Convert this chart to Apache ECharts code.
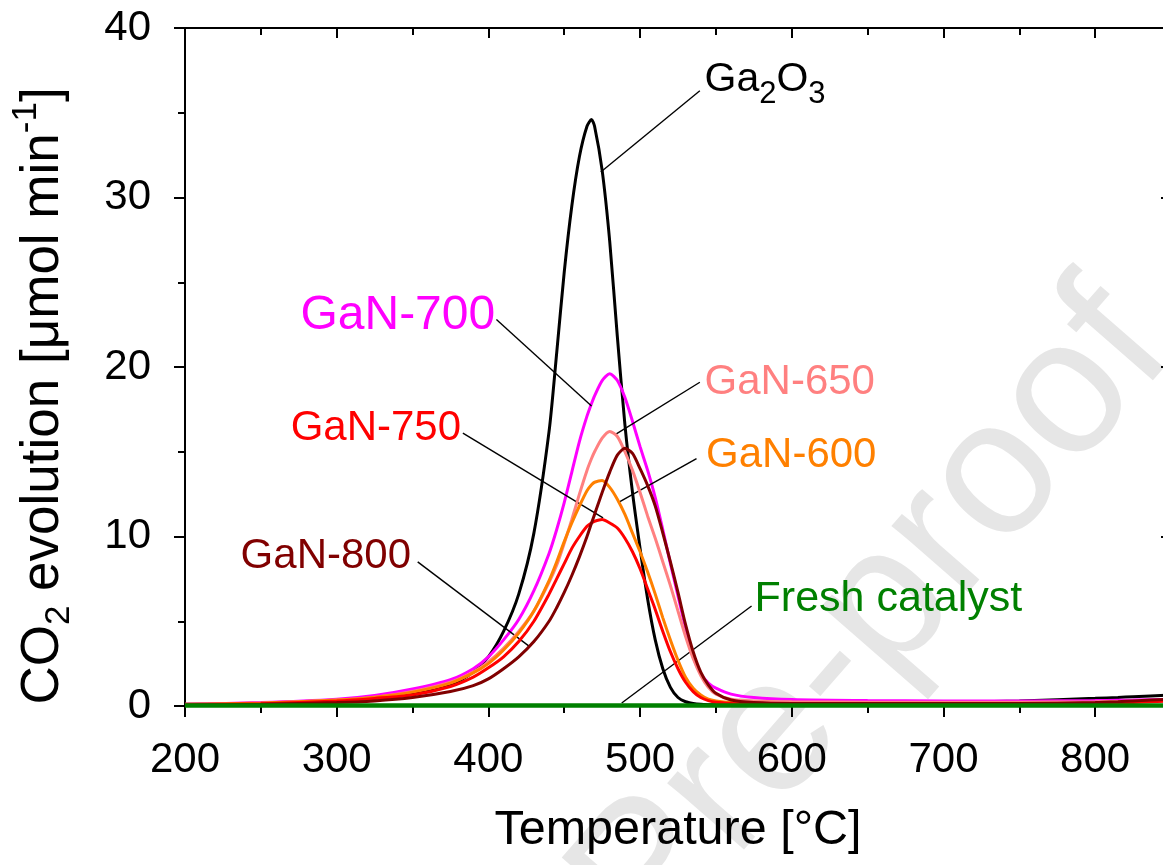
<!DOCTYPE html>
<html>
<head>
<meta charset="utf-8">
<script src="https://cdn.jsdelivr.net/npm/echarts@6/dist/echarts.min.js"></script>
<style>
  html, body { margin: 0; padding: 0; background: #fff; overflow: hidden; }
  #chart { width: 1180px; height: 865px; }
</style>
</head>
<body>
<div id="chart"></div>
<script>
// Temperature grid [°C] shared by all CO2 evolution curves
const temperature = [200, 250, 300, 325, 350, 375, 390, 400, 410, 420,
  430, 440, 445, 450, 455, 460, 465, 468, 470, 475, 480,
  485, 490, 495, 500, 505, 510, 515, 520, 525, 530,
  535, 540, 545, 550, 560, 575, 600, 650, 700, 750,
  800, 815, 825, 850];

// CO2 evolution [µmol min-1]
const ga2o3 = [0.1, 0.15, 0.3, 0.45, 0.7, 1.25, 2.0, 2.9, 4.4, 6.6,
  10.2, 16.2, 20.8, 25.6, 29.5, 32.4, 34.2, 34.6, 34.2, 31.6, 27.4,
  21.8, 16.6, 12.6, 9.3, 6.3, 3.9, 2.2, 1.1, 0.5, 0.25,
  0.15, 0.1, 0.08, 0.07, 0.06, 0.05, 0.05, 0.05, 0.2, 0.3,
  0.45, 0.5, 0.55, 0.65];
const gan700 = [0.1, 0.2, 0.4, 0.62, 1.0, 1.55, 2.2, 2.9, 3.9, 5.1,
  6.8, 9.0, 10.4, 12.0, 13.8, 15.6, 17.1, 17.85, 18.3, 19.2, 19.6,
  19.2, 18.2, 16.8, 15.3, 13.9, 12.3, 10.4, 8.4, 6.5, 4.6,
  2.9, 1.9, 1.35, 1.05, 0.7, 0.5, 0.38, 0.32, 0.3, 0.3,
  0.32, 0.34, 0.35, 0.4];
const gan650 = [0.08, 0.15, 0.35, 0.52, 0.85, 1.4, 2.0, 2.6, 3.4, 4.4,
  5.6, 7.3, 8.3, 9.6, 11.0, 12.5, 13.9, 14.6, 15.0, 15.8, 16.2,
  15.9, 15.0, 13.9, 12.6, 11.2, 9.9, 8.5, 7.1, 5.6, 4.1,
  2.8, 1.8, 1.1, 0.7, 0.4, 0.3, 0.25, 0.22, 0.22, 0.22,
  0.25, 0.27, 0.28, 0.3];
const gan600 = [0.1, 0.18, 0.35, 0.52, 0.82, 1.35, 1.95, 2.5, 3.3, 4.3,
  5.6, 7.4, 8.5, 9.7, 10.8, 11.8, 12.7, 13.05, 13.2, 13.3, 12.9,
  12.2, 11.3, 10.2, 9.1, 7.9, 6.6, 5.2, 3.9, 2.7, 1.7,
  1.05, 0.65, 0.4, 0.3, 0.2, 0.15, 0.12, 0.12, 0.12, 0.12,
  0.12, 0.12, null, null];
const gan750 = [0.08, 0.14, 0.3, 0.45, 0.65, 1.15, 1.7, 2.25, 2.9, 3.8,
  5.0, 6.6, 7.5, 8.4, 9.3, 10.0, 10.6, 10.8, 10.9, 11.0, 10.8,
  10.5, 9.9, 9.1, 8.1, 6.9, 5.7, 4.4, 3.2, 2.2, 1.4,
  0.85, 0.5, 0.32, 0.22, 0.15, 0.1, 0.08, 0.08, 0.08, 0.08,
  0.12, 0.15, 0.2, 0.3];
const gan800 = [0.05, 0.1, 0.2, 0.3, 0.5, 0.85, 1.2, 1.6, 2.2, 2.9,
  3.8, 5.0, 5.8, 6.7, 7.7, 8.8, 10.0, 10.8, 11.3, 12.6, 13.8,
  14.8, 15.2, 14.9, 14.0, 13.0, 11.8, 10.2, 8.5, 6.7, 4.8,
  3.2, 2.0, 1.25, 0.75, 0.35, 0.2, 0.15, 0.15, 0.15, 0.15,
  0.2, 0.25, 0.3, 0.4];
const freshCatalyst = [0.03, 0.03, 0.03, 0.03, 0.03, 0.03, 0.03, 0.03, 0.03, 0.03,
  0.03, 0.03, 0.03, 0.03, 0.03, 0.03, 0.03, 0.03, 0.03, 0.03, 0.03,
  0.03, 0.03, 0.03, 0.03, 0.03, 0.03, 0.03, 0.03, 0.03, 0.03,
  0.03, 0.03, 0.03, 0.03, 0.03, 0.03, 0.03, 0.03, 0.03, 0.03,
  0.03, 0.03, 0.03, 0.03];

// Curve labels: text, anchor [T, value], side of anchor, leader line from/to [T, value]
const seriesNames = ['Ga2O3', 'GaN-700', 'GaN-650', 'GaN-600', 'GaN-750', 'GaN-800', 'Fresh catalyst'];
const labelTexts = ['{n|Ga}{s|2}{n|O}{s|3}', 'GaN-700', 'GaN-650', 'GaN-600', 'GaN-750', 'GaN-800', 'Fresh catalyst'];
const labelSizes = [41, 48, 42, 42, 42, 42, 43];
const labelAnchors = [[542.5, 36.95], [404.5, 23.0], [542.5, 19.1], [543.5, 14.8], [382.0, 16.4], [349.0, 8.8], [575.5, 6.3]];
const labelSides = ['right', 'left', 'right', 'right', 'left', 'left', 'right'];
const leaderFrom = [[539.4, 36.3], [405.3, 22.8], [539.4, 19.1], [537.2, 14.6], [383.2, 16.1], [353.4, 8.5], [573.5, 5.9]];
const leaderTo = [[474.1, 31.5], [468.0, 17.7], [483.3, 16.0], [485.5, 12.0], [475.6, 11.1], [427.2, 3.5], [487.9, 0.18]];

const xTicks = { min: 200, max: 850, interval: 100 };
const yTicks = { min: 0, max: 40, interval: 10 };

const curves = [ga2o3, gan700, gan650, gan600, gan750, gan800, freshCatalyst];
const colors = ['#000000', '#ff00ff', '#ff8080', '#ff8000', '#ff0000', '#800000', '#008000'];
const widths = [3, 3, 3, 3, 3, 3, 4.5];

const FONT = '"Liberation Sans", Arial, Helvetica, sans-serif';

const chart = echarts.init(document.getElementById('chart'), null, { renderer: 'canvas' });

const series = curves.map((vals, i) => ({
  name: seriesNames[i],
  type: 'line',
  data: temperature.map((t, k) => [t, vals[k]]),
  showSymbol: false,
  smooth: 0.25,
  connectNulls: false,
  lineStyle: { color: colors[i], width: widths[i] },
  itemStyle: { color: colors[i] },
  emphasis: { disabled: true },
  z: 3 + i,
  markLine: {
    silent: true,
    symbol: ['none', 'none'],
    label: { show: false },
    lineStyle: { color: '#000', width: 1.4, type: 'solid' },
    emphasis: { disabled: true },
    data: [[{ coord: leaderFrom[i] }, { coord: leaderTo[i] }]]
  },
  markPoint: {
    silent: true,
    symbol: 'circle',
    symbolSize: 0,
    itemStyle: { color: 'rgba(0,0,0,0)' },
    data: [{ coord: labelAnchors[i] }],
    label: {
      show: true,
      position: labelSides[i],
      distance: 0,
      formatter: labelTexts[i],
      color: colors[i],
      fontSize: labelSizes[i],
      fontFamily: FONT,
      rich: {
        n: { fontSize: labelSizes[i], fontFamily: FONT, color: colors[i], lineHeight: 60 },
        s: { fontSize: 31, fontFamily: FONT, color: colors[i], lineHeight: 30, verticalAlign: 'bottom' }
      }
    }
  }
}));

const axisLineStyle = { color: '#000', width: 2 };

const option = {
  animation: false,
  backgroundColor: '#ffffff',
  grid: { left: 185, right: 9, top: 28, bottom: 159, containLabel: false, outerBoundsMode: 'none' },
  graphic: [{
    type: 'text',
    x: 1137,
    y: 318,
    rotation: 0.854,
    z: 0,
    silent: true,
    style: {
      text: 'Journal Pre-proof',
      fontSize: 192,
      fontFamily: FONT,
      fill: '#e6e6e6',
      align: 'right',
      verticalAlign: 'middle'
    }
  }],
  xAxis: [{
    type: 'value',
    position: 'bottom',
    min: xTicks.min, max: xTicks.max, interval: xTicks.interval,
    axisLine: { show: true, onZero: false, lineStyle: axisLineStyle },
    axisTick: { show: true, inside: false, length: 11, lineStyle: axisLineStyle },
    minorTick: { show: true, splitNumber: 2, length: 7, lineStyle: axisLineStyle },
    splitLine: { show: false },
    minorSplitLine: { show: false },
    axisLabel: { color: '#000', fontSize: 42, fontFamily: FONT, margin: 33, showMaxLabel: false },
    name: 'Temperature [°C]',
    nameLocation: 'middle',
    nameGap: 100,
    nameTextStyle: { color: '#000', fontSize: 48.5, fontFamily: FONT }
  }, {
    type: 'value',
    position: 'top',
    min: xTicks.min, max: xTicks.max, interval: xTicks.interval,
    axisLine: { show: true, onZero: false, lineStyle: axisLineStyle },
    axisTick: { show: true, inside: true, length: 10, lineStyle: axisLineStyle },
    minorTick: { show: true, splitNumber: 2, length: 7, lineStyle: axisLineStyle },
    splitLine: { show: false },
    axisLabel: { show: false }
  }],
  yAxis: [{
    type: 'value',
    position: 'left',
    min: yTicks.min, max: yTicks.max, interval: yTicks.interval,
    axisLine: { show: true, onZero: false, lineStyle: axisLineStyle },
    axisTick: { show: true, inside: false, length: 11, lineStyle: axisLineStyle },
    minorTick: { show: true, splitNumber: 2, length: 7, lineStyle: axisLineStyle },
    splitLine: { show: false },
    axisLabel: { color: '#000', fontSize: 42, fontFamily: FONT, margin: 34 },
    name: '{n|CO}{s|2}{n| evolution [μmol min}{p|-1}{n|]}',
    nameLocation: 'middle',
    nameGap: 108,
    nameRotate: 90,
    nameTextStyle: {
      color: '#000',
      fontFamily: FONT,
      padding: [0, 58, 0, 0],
      rich: {
        n: { fontSize: 53, fontFamily: FONT, color: '#000', lineHeight: 68 },
        s: { fontSize: 35, fontFamily: FONT, color: '#000', lineHeight: 36, verticalAlign: 'bottom' },
        p: { fontSize: 35, fontFamily: FONT, color: '#000', lineHeight: 36, verticalAlign: 'top' }
      }
    }
  }, {
    type: 'value',
    position: 'right',
    min: yTicks.min, max: yTicks.max, interval: yTicks.interval,
    axisLine: { show: true, onZero: false, lineStyle: axisLineStyle },
    axisTick: { show: true, inside: true, length: 10, lineStyle: axisLineStyle },
    minorTick: { show: true, splitNumber: 2, length: 7, lineStyle: axisLineStyle },
    splitLine: { show: false },
    axisLabel: { show: false }
  }],
  series: series
};

chart.setOption(option);
</script>
</body>
</html>
